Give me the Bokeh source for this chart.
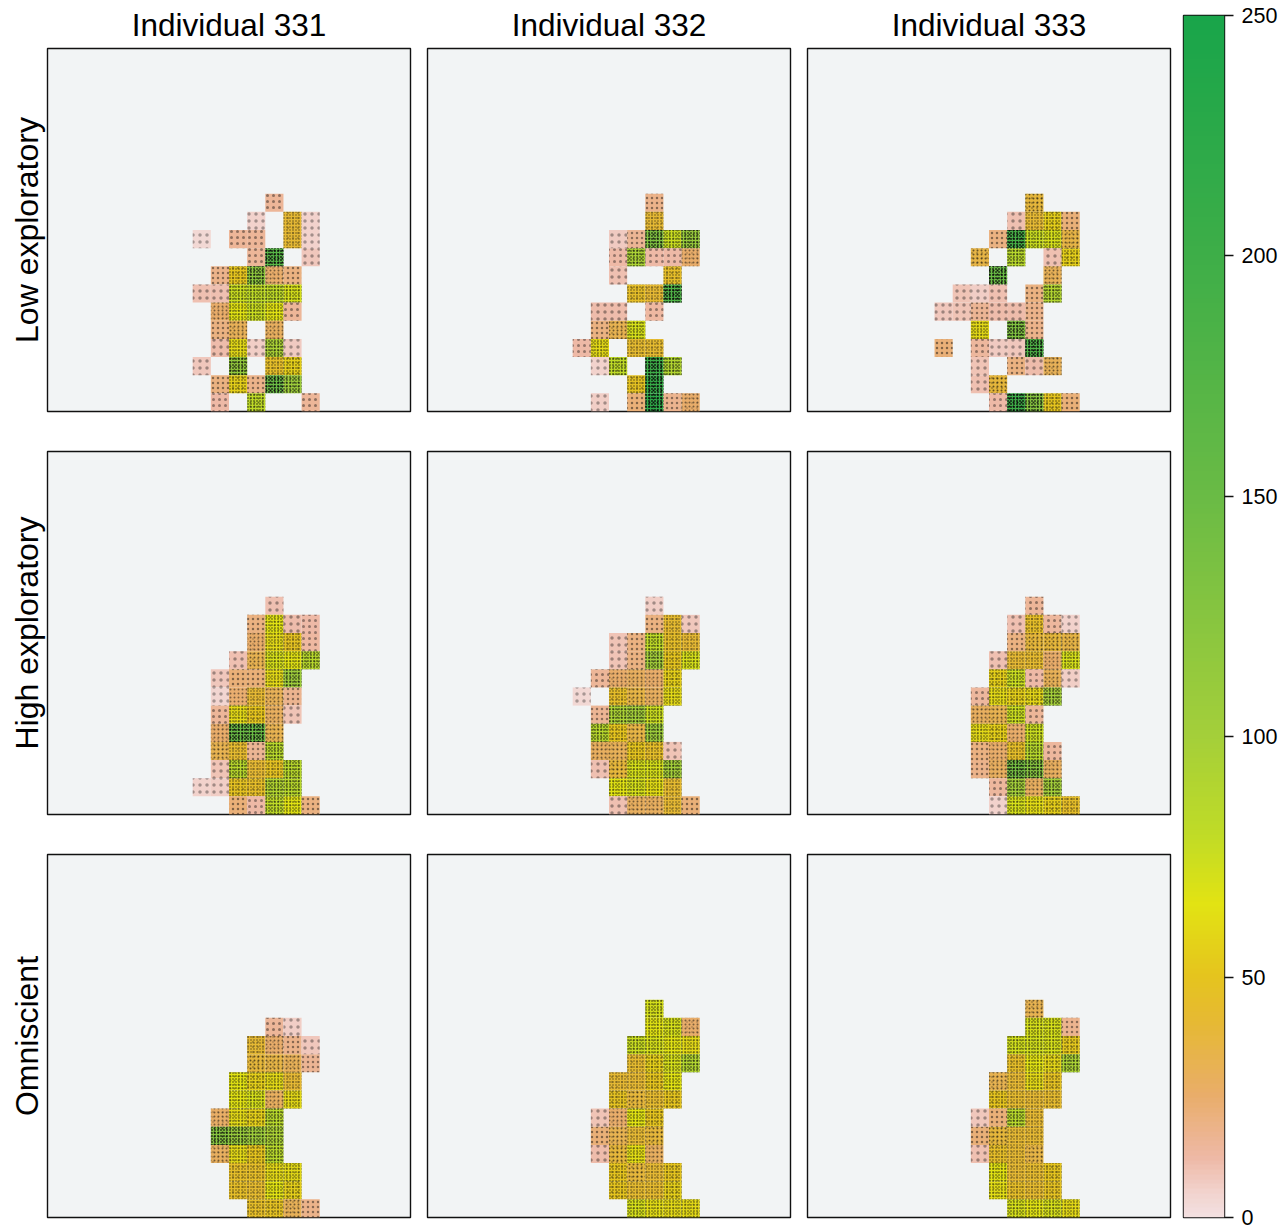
import numpy as np
from bokeh.embed import file_html
from bokeh.layouts import column, row
from bokeh.models import ColumnDataSource, FixedTicker, LinearAxis, LinearColorMapper, Range1d, Title
from bokeh.plotting import figure
from bokeh.resources import INLINE

individuals = ["Individual 331", "Individual 332", "Individual 333"]
conditions = ["Low exploratory", "High exploratory", "Omniscient"]
first_col = 7
colorbar_ticks = [0, 50, 100, 150, 200, 250]
stop_values = [0, 4, 12, 25, 40, 50, 65, 80, 100, 150, 200, 250]
stop_colors = ["#f3dfdf", "#f2d5d1", "#eeb9a6", "#e9ad6a", "#e6b934", "#e5c41e", "#e2e313",
               "#bfdb27", "#a4cf3a", "#6abb45", "#3eae48", "#19a54a"]

# Cell values, rows top (row 11) to bottom (row 0), columns 7..14; 0 = no cell
low_331 = [
    [0, 0, 0, 0, 0, 15, 0, 0],
    [0, 0, 0, 0, 5, 0, 40, 5],
    [0, 3, 0, 15, 15, 0, 40, 5],
    [0, 0, 0, 0, 15, 170, 0, 8],
    [0, 0, 18, 50, 120, 25, 20, 0],
    [0, 10, 10, 75, 80, 80, 70, 0],
    [0, 0, 25, 65, 75, 65, 15, 0],
    [0, 0, 20, 30, 0, 28, 0, 0],
    [0, 0, 11, 60, 6, 95, 7, 0],
    [0, 8, 0, 115, 0, 45, 55, 0],
    [0, 0, 20, 55, 18, 150, 105, 0],
    [0, 0, 12, 0, 80, 0, 0, 15],
]
low_332 = [
    [0, 0, 0, 0, 0, 18, 0, 0],
    [0, 0, 0, 0, 0, 40, 0, 0],
    [0, 0, 0, 7, 16, 130, 75, 110],
    [0, 0, 0, 12, 95, 12, 12, 25],
    [0, 0, 0, 10, 0, 0, 45, 0],
    [0, 0, 0, 0, 45, 40, 180, 0],
    [0, 0, 11, 11, 0, 13, 0, 0],
    [0, 0, 20, 32, 70, 0, 0, 0],
    [0, 12, 60, 0, 42, 42, 0, 0],
    [0, 0, 5, 80, 0, 200, 90, 0],
    [0, 0, 0, 0, 48, 210, 0, 0],
    [0, 0, 6, 0, 22, 220, 17, 25],
]
low_333 = [
    [0, 0, 0, 0, 0, 38, 0, 0],
    [0, 0, 0, 0, 10, 40, 55, 22],
    [0, 0, 0, 20, 190, 75, 70, 35],
    [0, 0, 35, 0, 85, 0, 10, 55],
    [0, 0, 0, 150, 0, 0, 30, 0],
    [0, 9, 6, 10, 0, 20, 90, 0],
    [8, 9, 16, 11, 11, 18, 0, 0],
    [0, 0, 60, 0, 130, 18, 0, 0],
    [22, 0, 14, 7, 8, 180, 0, 0],
    [0, 0, 9, 0, 20, 11, 30, 0],
    [0, 0, 10, 38, 0, 0, 0, 0],
    [0, 0, 0, 12, 200, 125, 50, 22],
]
high_331 = [
    [0, 0, 0, 0, 0, 10, 0, 0],
    [0, 0, 0, 0, 20, 65, 11, 12],
    [0, 0, 0, 0, 25, 60, 48, 13],
    [0, 0, 0, 10, 32, 70, 65, 85],
    [0, 0, 8, 22, 22, 60, 105, 0],
    [0, 0, 4, 24, 40, 30, 17, 0],
    [0, 0, 15, 60, 50, 28, 9, 0],
    [0, 0, 25, 150, 150, 32, 0, 0],
    [0, 0, 32, 42, 16, 85, 0, 0],
    [0, 0, 9, 85, 40, 48, 85, 0],
    [0, 5, 6, 48, 45, 90, 85, 0],
    [0, 0, 0, 22, 12, 80, 65, 20],
]
high_332 = [
    [0, 0, 0, 0, 0, 6, 0, 0],
    [0, 0, 0, 0, 0, 20, 42, 8],
    [0, 0, 0, 9, 20, 80, 45, 40],
    [0, 0, 0, 9, 20, 100, 50, 70],
    [0, 0, 15, 25, 28, 25, 55, 0],
    [0, 3, 0, 45, 35, 28, 60, 0],
    [0, 0, 16, 95, 100, 75, 0, 0],
    [0, 0, 85, 50, 35, 105, 0, 0],
    [0, 0, 28, 30, 50, 45, 9, 0],
    [0, 0, 10, 38, 70, 70, 100, 0],
    [0, 0, 0, 65, 70, 62, 42, 0],
    [0, 0, 0, 10, 28, 28, 40, 22],
]
high_333 = [
    [0, 0, 0, 0, 0, 15, 0, 0],
    [0, 0, 0, 0, 10, 45, 14, 5],
    [0, 0, 0, 0, 20, 38, 38, 35],
    [0, 0, 0, 10, 40, 42, 25, 70],
    [0, 0, 0, 55, 75, 12, 30, 6],
    [0, 0, 14, 60, 55, 58, 100, 0],
    [0, 0, 28, 32, 75, 15, 0, 0],
    [0, 0, 60, 55, 25, 75, 0, 0],
    [0, 0, 20, 25, 45, 85, 14, 0],
    [0, 0, 18, 28, 140, 125, 28, 0],
    [0, 0, 0, 14, 100, 28, 100, 0],
    [0, 0, 0, 5, 70, 62, 55, 45],
]
omni_331 = [
    [0, 0, 0, 0, 0, 0, 0, 0],
    [0, 0, 0, 0, 0, 15, 6, 0],
    [0, 0, 0, 0, 40, 25, 18, 8],
    [0, 0, 0, 0, 38, 35, 30, 16],
    [0, 0, 0, 65, 55, 60, 40, 0],
    [0, 0, 0, 65, 70, 28, 60, 0],
    [0, 0, 26, 60, 55, 85, 0, 0],
    [0, 0, 125, 110, 105, 95, 0, 0],
    [0, 0, 28, 60, 50, 85, 0, 0],
    [0, 0, 0, 45, 45, 60, 60, 0],
    [0, 0, 0, 45, 42, 65, 55, 0],
    [0, 0, 0, 0, 45, 48, 30, 18],
]
omni_332 = [
    [0, 0, 0, 0, 0, 70, 0, 0],
    [0, 0, 0, 0, 0, 65, 70, 25],
    [0, 0, 0, 0, 75, 70, 65, 60],
    [0, 0, 0, 0, 42, 55, 70, 90],
    [0, 0, 0, 40, 40, 50, 65, 0],
    [0, 0, 0, 48, 38, 42, 50, 0],
    [0, 0, 9, 25, 65, 50, 0, 0],
    [0, 0, 22, 32, 40, 38, 0, 0],
    [0, 0, 11, 38, 62, 28, 0, 0],
    [0, 0, 0, 50, 38, 40, 50, 0],
    [0, 0, 0, 50, 42, 42, 55, 0],
    [0, 0, 0, 0, 70, 62, 60, 60],
]
omni_333 = [
    [0, 0, 0, 0, 0, 32, 0, 0],
    [0, 0, 0, 0, 0, 70, 70, 17],
    [0, 0, 0, 0, 72, 72, 70, 52],
    [0, 0, 0, 0, 45, 65, 58, 95],
    [0, 0, 0, 32, 40, 60, 48, 0],
    [0, 0, 0, 50, 42, 40, 42, 0],
    [0, 0, 8, 22, 85, 40, 0, 0],
    [0, 0, 22, 38, 40, 40, 0, 0],
    [0, 0, 10, 45, 40, 35, 0, 0],
    [0, 0, 0, 65, 40, 42, 50, 0],
    [0, 0, 0, 62, 45, 42, 48, 0],
    [0, 0, 0, 0, 70, 65, 70, 60],
]
panels = [[low_331, low_332, low_333], [high_331, high_332, high_333], [omni_331, omni_332, omni_333]]

FONT = "Liberation Sans"
PANEL_BG = "#f2f4f5"
CELL_AREA = 329.0


def hex_rgb(c):
    return [int(c[i:i + 2], 16) for i in (1, 3, 5)]


levels = np.arange(0, 251)
stops = np.array([hex_rgb(c) for c in stop_colors], dtype=float)
palette = ["#%02x%02x%02x" % tuple(int(round(np.interp(v, stop_values, stops[:, k]))) for k in range(3)) for v in levels]
mapper = LinearColorMapper(palette=palette, low=0, high=250)


def stipple(p, x, y, v, scale, alpha):
    """The reference's individual dots cannot be read, so a hatch texture stands in for them."""
    if len(x) == 0:
        return
    src = ColumnDataSource(dict(x=x, y=y, v=v, scale=scale, alpha=alpha))
    p.rect("x", "y", width=1, height=1, source=src, line_color=None, fill_color=None,
           hatch_pattern="dot", hatch_color="#0a0a0a", hatch_scale="scale", hatch_alpha="alpha")


def panel(grid, top_title, left_title, is_top, is_left, is_bottom):
    xs, ys, vals = [], [], []
    for i, line in enumerate(grid):
        for j, v in enumerate(line):
            if v > 0:
                xs.append(first_col + j + 0.5)
                ys.append(11 - i + 0.5)
                vals.append(v)
    xs, ys, vals = np.array(xs), np.array(ys), np.array(vals, dtype=float)
    p = figure(frame_width=363, frame_height=363, x_range=Range1d(0, 20), y_range=Range1d(0, 20),
               output_backend="svg", toolbar_location=None, tools="",
               min_border_left=47 if is_left else 8, min_border_right=9,
               min_border_top=48 if is_top else 20, min_border_bottom=2 if is_bottom else 20,
               background_fill_color=PANEL_BG, border_fill_color="white",
               outline_line_color="#111111", outline_line_width=1.4)
    p.axis.visible = False
    p.grid.visible = False
    p.rect("x", "y", width=1, height=1, source=ColumnDataSource(dict(x=xs, y=ys, v=vals)), line_color=None,
           fill_color={"field": "v", "transform": mapper})
    # first layer: spacing falls as the cell's value rises
    s1 = np.clip(np.round(np.sqrt(CELL_AREA / vals) * 1.2), 3, 7)
    stipple(p, xs, ys, vals, s1, np.clip(0.3 + vals / 130.0, 0.3, 0.95))
    # second layer with another spacing, so that busy cells do not read as a plain lattice
    m2 = vals >= 25
    s2 = np.where(vals >= 60, 4, 5)[m2]
    stipple(p, xs[m2], ys[m2], vals[m2], s2, np.clip(vals[m2] / 160.0, 0.15, 0.95))
    # third layer for the darkest cells
    m3 = vals >= 110
    stipple(p, xs[m3], ys[m3], vals[m3], np.full(m3.sum(), 3), np.clip((vals[m3] - 60) / 120.0, 0.4, 1.0))
    if top_title:
        p.add_layout(Title(text=top_title, align="center", vertical_align="middle", text_baseline="middle",
                           text_font=FONT, text_font_size="31.5px", text_font_style="normal",
                           text_color="black", standoff=10), "above")
    if left_title:
        p.add_layout(Title(text=left_title, align="center", text_font=FONT, text_font_size="32px",
                           text_font_style="normal", text_color="black", standoff=6), "left")
    return p


rows = []
for r, line in enumerate(panels):
    rows.append(row([panel(g, individuals[c] if r == 0 else None, conditions[r] if c == 0 else None,
                           r == 0, c == 0, r == 2)
                     for c, g in enumerate(line)], spacing=0))
grid = column(rows, spacing=0)

cb = figure(frame_width=41, frame_height=1202, x_range=Range1d(0, 1), y_range=Range1d(0, 250),
            output_backend="svg", toolbar_location=None, tools="",
            min_border_left=4, min_border_right=56, min_border_top=15, min_border_bottom=9,
            outline_line_color="#111111", outline_line_width=1.4)
cb.axis.visible = False
cb.grid.visible = False
cb.image(image=[levels.reshape(-1, 1)], x=0, y=0, dw=1, dh=250, color_mapper=mapper)
ax = LinearAxis(ticker=FixedTicker(ticks=colorbar_ticks), major_tick_out=9, major_tick_in=0, minor_tick_line_color=None,
                axis_line_color=None, major_tick_line_color="#111111", major_tick_line_width=1.4,
                major_label_text_font=FONT, major_label_text_font_size="21.5px", major_label_text_color="black",
                major_label_orientation="horizontal", major_label_standoff=8)
cb.add_layout(ax, "right")

layout = row(grid, cb, spacing=0)
open("out.html", "w").write(file_html(layout, INLINE))
